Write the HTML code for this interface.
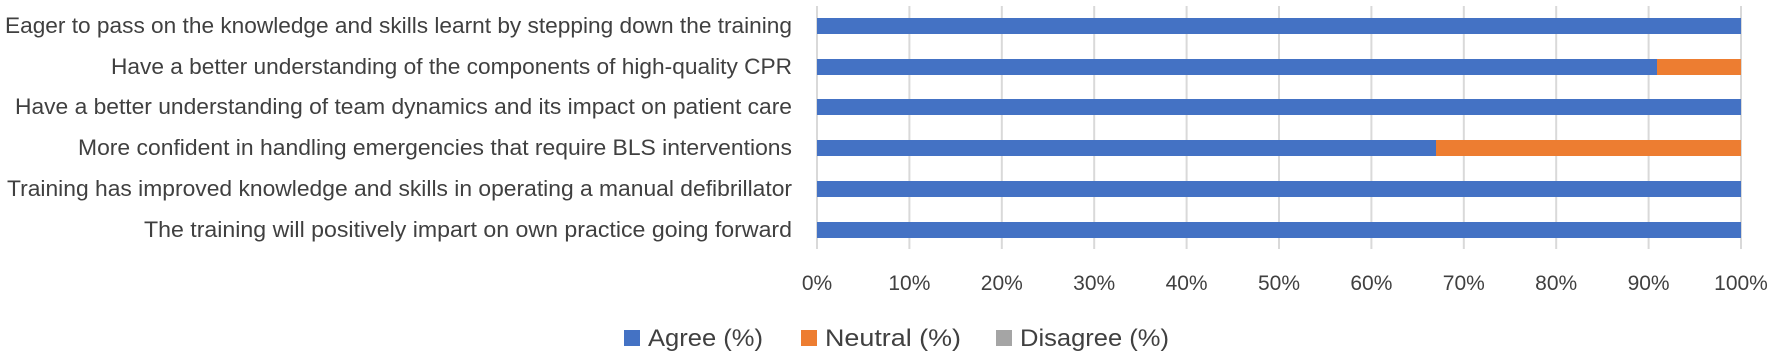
<!DOCTYPE html>
<html><head><style>
body{margin:0;background:#fff;}
svg text{font-family:"Liberation Sans",sans-serif;fill:#404040;}
</style></head><body>
<svg width="1772" height="357" xmlns="http://www.w3.org/2000/svg">
<g stroke="#d9d9d9" stroke-width="2">
<line x1="817" y1="6" x2="817" y2="249"/><line x1="909.4" y1="6" x2="909.4" y2="249"/><line x1="1001.8" y1="6" x2="1001.8" y2="249"/><line x1="1094.2" y1="6" x2="1094.2" y2="249"/><line x1="1186.6" y1="6" x2="1186.6" y2="249"/><line x1="1279" y1="6" x2="1279" y2="249"/><line x1="1371.4" y1="6" x2="1371.4" y2="249"/><line x1="1463.8" y1="6" x2="1463.8" y2="249"/><line x1="1556.2" y1="6" x2="1556.2" y2="249"/><line x1="1648.6" y1="6" x2="1648.6" y2="249"/><line x1="1741" y1="6" x2="1741" y2="249"/>
</g>
<g fill="#4472c4">
<rect x="817" y="18" width="924" height="16"/>
<rect x="817" y="59" width="840" height="16"/>
<rect x="817" y="99" width="924" height="16"/>
<rect x="817" y="140" width="619" height="16"/>
<rect x="817" y="181" width="924" height="16"/>
<rect x="817" y="222" width="924" height="16"/>
</g>
<g fill="#ed7d31">
<rect x="1657" y="59" width="84" height="16"/>
<rect x="1436" y="140" width="305" height="16"/>
</g>
<g font-size="22" text-anchor="end">
<text x="792" y="33" textLength="787" lengthAdjust="spacingAndGlyphs">Eager to pass on the knowledge and skills learnt by stepping down the training</text>
<text x="792" y="74" textLength="681" lengthAdjust="spacingAndGlyphs">Have a better understanding of the components of high-quality CPR</text>
<text x="792" y="114" textLength="777" lengthAdjust="spacingAndGlyphs">Have a better understanding of team dynamics and its impact on patient care</text>
<text x="792" y="155" textLength="714" lengthAdjust="spacingAndGlyphs">More confident in handling emergencies that require BLS interventions</text>
<text x="792" y="196" textLength="785" lengthAdjust="spacingAndGlyphs">Training has improved knowledge and skills in operating a manual defibrillator</text>
<text x="792" y="237" textLength="648" lengthAdjust="spacingAndGlyphs">The training will positively impart on own practice going forward</text>
</g>
<g font-size="21" text-anchor="middle">
<text x="817" y="290">0%</text><text x="909.4" y="290">10%</text><text x="1001.8" y="290">20%</text><text x="1094.2" y="290">30%</text><text x="1186.6" y="290">40%</text><text x="1279" y="290">50%</text><text x="1371.4" y="290">60%</text><text x="1463.8" y="290">70%</text><text x="1556.2" y="290">80%</text><text x="1648.6" y="290">90%</text><text x="1741" y="290">100%</text>
</g>
<g font-size="24">
<rect x="624" y="330" width="16" height="16" fill="#4472c4"/><text x="648" y="346" textLength="115" lengthAdjust="spacingAndGlyphs">Agree (%)</text>
<rect x="801" y="330" width="16" height="16" fill="#ed7d31"/><text x="825" y="346" textLength="136" lengthAdjust="spacingAndGlyphs">Neutral (%)</text>
<rect x="996" y="330" width="16" height="16" fill="#a5a5a5"/><text x="1020" y="346" textLength="149" lengthAdjust="spacingAndGlyphs">Disagree (%)</text>
</g>
</svg>
</body></html>
